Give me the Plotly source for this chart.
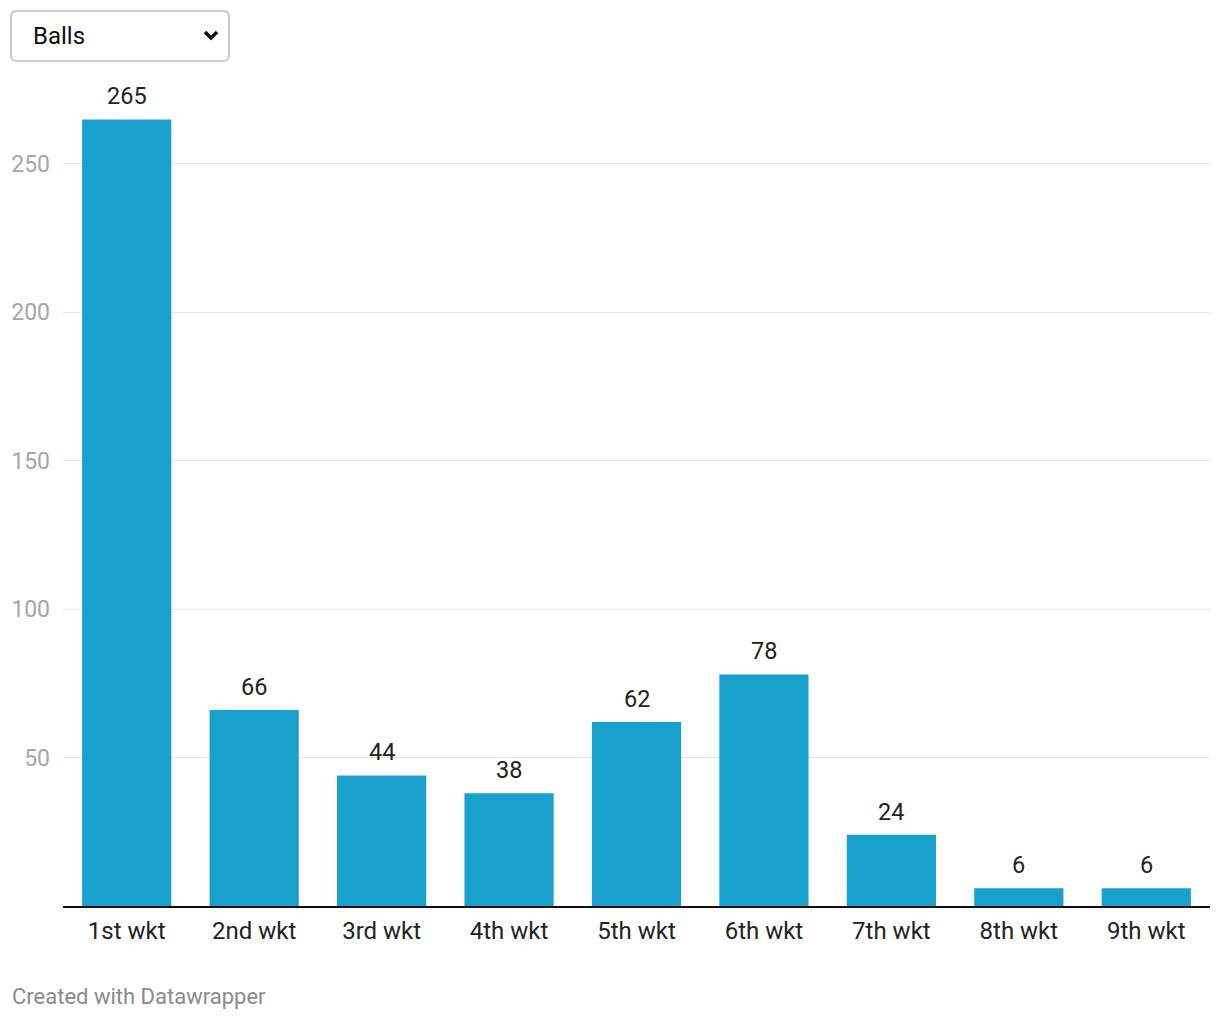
import plotly.graph_objects as go

categories = ["1st wkt", "2nd wkt", "3rd wkt", "4th wkt", "5th wkt", "6th wkt", "7th wkt", "8th wkt", "9th wkt"]
balls = [265, 66, 44, 38, 62, 78, 24, 6, 6]
y_ticks = [50, 100, 150, 200, 250]
dropdown_label = "Balls"
footer_text = "Created with Datawrapper"

BAR_COLOR = "#18a1cd"
FONT = "Roboto"

W, H = 1220, 1020
L, R, T, B = 63, 10, 80, 114
pw, ph = W - L - R, H - T - B
def px(x):
    return (x - L) / pw
def py(y):
    return (H - B - y) / ph

fig = go.Figure()
fig.add_trace(go.Bar(
    x=categories, y=balls, marker=dict(color=BAR_COLOR, line=dict(width=0)),
    hoverinfo="x+y", showlegend=False,
))

annotations = []
for c, v in zip(categories, balls):
    annotations.append(dict(
        x=c, y=v, xref="x", yref="y", text=str(v), showarrow=False,
        yanchor="bottom", yshift=7, font=dict(family=FONT, size=23.5, color="#222222"),
    ))
annotations.append(dict(
    x=px(10), y=py(997), xref="paper", yref="paper", text=footer_text, showarrow=False,
    xanchor="left", yanchor="middle", font=dict(family=FONT, size=22, color="#8a8a8a"),
))

fig.update_layout(
    width=W, height=H,
    margin=dict(l=L, r=R, t=T, b=B),
    paper_bgcolor="white", plot_bgcolor="white",
    bargap=0.3,
    font=dict(family=FONT, size=20, color="#222222"),
    xaxis=dict(
        showgrid=False, showline=True, linecolor="#111111", linewidth=2,
        ticks="", tickfont=dict(family=FONT, size=24, color="#222222"),
        ticklabelstandoff=2, fixedrange=True,
    ),
    yaxis=dict(
        range=[0, 278.3], tickvals=y_ticks, showgrid=True, gridcolor="#e3e3e3", gridwidth=1,
        zeroline=False, showline=False, ticks="",
        tickfont=dict(family=FONT, size=23, color="#a6a6a6"),
        ticklabelstandoff=12, fixedrange=True,
    ),
    annotations=annotations,
)

# dropdown look-alike (rounded rect + label + chevron) in paper coords
x0, x1, y0, y1, r = 11, 229, 11, 61, 6
def P(x, y):
    return f"{px(x)},{py(y)}"
path = (f"M {P(x0 + r, y0)} L {P(x1 - r, y0)} Q {P(x1, y0)} {P(x1, y0 + r)} "
        f"L {P(x1, y1 - r)} Q {P(x1, y1)} {P(x1 - r, y1)} L {P(x0 + r, y1)} "
        f"Q {P(x0, y1)} {P(x0, y1 - r)} L {P(x0, y0 + r)} Q {P(x0, y0)} {P(x0 + r, y0)} Z")
fig.add_shape(type="path", xref="paper", yref="paper", path=path,
              line=dict(color="#cccccc", width=2), fillcolor="white", layer="above")
chev = f"M {P(205, 32)} L {P(211, 38)} L {P(217, 32)}"
fig.add_shape(type="path", xref="paper", yref="paper", path=chev,
              line=dict(color="#111111", width=3.5), layer="above")
fig.add_annotation(x=px(31), y=py(36), xref="paper", yref="paper", text=dropdown_label,
                   showarrow=False, xanchor="left", yanchor="middle",
                   font=dict(family=FONT, size=24, color="#111111"))

fig.write_html("out.html", config={"displayModeBar": False},
               post_script="document.body.style.margin='0';")
